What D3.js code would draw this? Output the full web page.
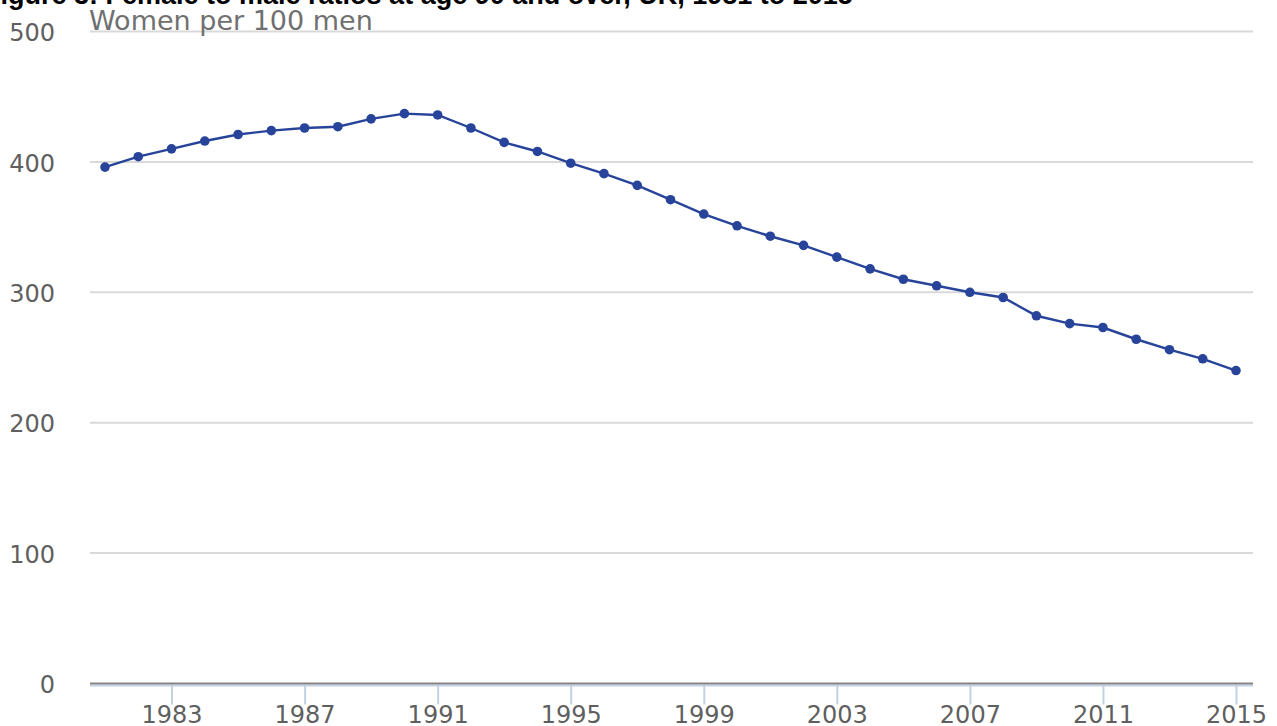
<!DOCTYPE html>
<html>
<head>
<meta charset="utf-8">
<script src="https://cdn.jsdelivr.net/npm/d3@7"></script>
<style>
    body { margin: 0; background: #fff; }
    svg { display: block; }
    .title { font-family: 'Liberation Sans', Arial, sans-serif; font-weight: bold; font-size: 27px; fill: #000; }
    .subtitle { font-family: 'DejaVu Sans', sans-serif; font-size: 27px; fill: #707070; }
    .tick text { font-family: 'DejaVu Sans', sans-serif; font-size: 24px; fill: #5f5f5f; }
</style>
</head>
<body>
<svg width="1277" height="726"></svg>
<script>
const years = d3.range(1981, 2016);
const ratios = [396, 404, 410, 416, 421, 424, 426, 427, 433, 437,
    436, 426, 415, 408, 399, 391, 382, 371, 360, 351,
    343, 336, 327, 318, 310, 305, 300, 296, 282, 276,
    273, 264, 256, 249, 240];
const yTicks = [0, 100, 200, 300, 400, 500];
const xTicks = [1983, 1987, 1991, 1995, 1999, 2003, 2007, 2011, 2015];

const render = () => {
    const svg = d3.select('svg');
    const left = 90, right = 1253;
    const data = years.map((y, i) => [y, ratios[i]]);

    const xScale = d3.scaleLinear()
        .domain([1981, 2015])
        .range([105, 1236]);
    const yScale = d3.scaleLinear()
        .domain([0, 500])
        .range([683.5, 31.5]);

    // gridlines + y labels
    const yAxis = d3.axisLeft(yScale)
        .tickValues(yTicks)
        .tickSize(0)
        .tickPadding(0);
    const gy = svg.append('g')
        .attr('transform', 'translate(55,0)')
        .call(yAxis);
    gy.select('.domain').remove();
    gy.selectAll('.tick text').attr('dy', '0.38em');

    svg.append('g').selectAll('line').data(yTicks.filter(d => d > 0))
        .enter().append('line')
            .attr('x1', left).attr('x2', right)
            .attr('y1', d => yScale(d)).attr('y2', d => yScale(d))
            .attr('stroke', '#d9d9d9')
            .attr('stroke-width', 2);

    // x axis
    const xAxis = d3.axisBottom(xScale)
        .tickValues(xTicks)
        .tickFormat(d3.format('d'))
        .tickSize(21)
        .tickPadding(1);
    const gx = svg.append('g')
        .attr('transform', `translate(0,${yScale(0)})`)
        .call(xAxis);
    gx.select('.domain').remove();
    gx.selectAll('.tick line').attr('stroke', '#c3d2e3').attr('stroke-width', 2);
    svg.append('line')
        .attr('x1', left).attr('x2', right)
        .attr('y1', yScale(0) + 2).attr('y2', yScale(0) + 2)
        .attr('stroke', '#c3d2e3').attr('stroke-width', 2);
    svg.append('line')
        .attr('x1', left).attr('x2', right)
        .attr('y1', yScale(0)).attr('y2', yScale(0))
        .attr('stroke', '#858585').attr('stroke-width', 2);

    // series
    const line = d3.line()
        .x(d => xScale(d[0]))
        .y(d => yScale(d[1]));
    svg.append('path').datum(data)
        .attr('d', line)
        .attr('fill', 'none')
        .attr('stroke', '#27449a')
        .attr('stroke-width', 2.4);
    svg.append('g').selectAll('circle').data(data)
        .enter().append('circle')
            .attr('cx', d => xScale(d[0]))
            .attr('cy', d => yScale(d[1]))
            .attr('r', 4.8)
            .attr('fill', '#27449a');

    svg.append('text')
        .text('Women per 100 men')
        .attr('class', 'subtitle')
        .attr('x', 89)
        .attr('y', 30);
    svg.append('text')
        .text('Figure 3: Female to male ratios at age 90 and over, UK, 1981 to 2015')
        .attr('class', 'title')
        .attr('x', -16)
        .attr('y', 4);
}

render();
</script>
</body>
</html>
